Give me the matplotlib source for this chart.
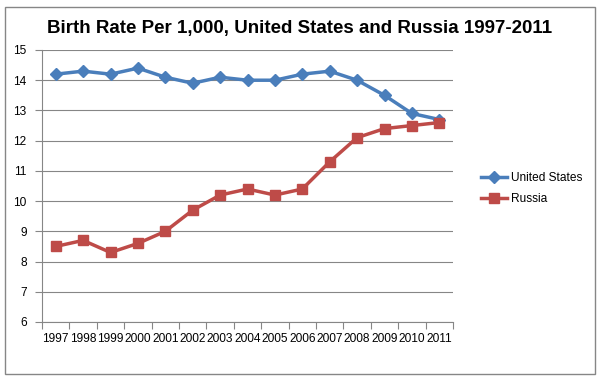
import matplotlib
matplotlib.use("Agg")
import matplotlib.pyplot as plt
from matplotlib.patches import Rectangle

# data
years = ["1997", "1998", "1999", "2000", "2001", "2002", "2003", "2004",
         "2005", "2006", "2007", "2008", "2009", "2010", "2011"]
us_rate = [14.2, 14.3, 14.2, 14.4, 14.1, 13.9, 14.1, 14.0,
           14.0, 14.2, 14.3, 14.0, 13.5, 12.9, 12.7]
russia_rate = [8.5, 8.7, 8.3, 8.6, 9.0, 9.7, 10.2, 10.4,
               10.2, 10.4, 11.3, 12.1, 12.4, 12.5, 12.6]
y_ticks = [6, 7, 8, 9, 10, 11, 12, 13, 14, 15]

plt.rcParams["font.family"] = ["Liberation Sans", "DejaVu Sans"]

fig = plt.figure(figsize=(6, 3.79), dpi=100)
W, H = 600, 379
# plot area in pixels: left 42, right 453, top 50, bottom 322
ax = fig.add_axes([42 / W, 1 - 322 / H, (453 - 42) / W, (322 - 50) / H])

x = list(range(1, len(years) + 1))
ax.plot(x, us_rate, color="#4A7EBB", lw=2.5, marker="D", ms=6,
        label="United States")
ax.plot(x, russia_rate, color="#BE4B48", lw=2.5, marker="s", ms=7,
        label="Russia")

ax.set_xlim(0.5, len(years) + 0.5)
ax.set_ylim(6, 15)
ax.set_yticks(y_ticks)
ax.yaxis.grid(True, color="#868686", lw=0.8)
ax.set_axisbelow(True)

# category axis: ticks between categories, labels centred
ax.set_xticks([i + 0.5 for i in range(0, len(years) + 1)])
ax.set_xticklabels([])
ax.set_xticks(x, minor=True)
ax.set_xticklabels(years, minor=True, fontsize=8.6)
ax.tick_params(axis="x", which="minor", length=0, pad=8)
ax.tick_params(axis="x", which="major", length=5, color="#868686")
ax.tick_params(axis="y", length=5, color="#868686", labelsize=8.6, pad=6)

for side in ["top", "right"]:
    ax.spines[side].set_visible(False)
for side in ["left", "bottom"]:
    ax.spines[side].set_color("#868686")

fig.text(0.5, 1 - 28 / H, "Birth Rate Per 1,000, United States and Russia 1997-2011",
         ha="center", va="center", fontsize=13.5, fontweight="bold")

fig.legend(loc="upper left", bbox_to_anchor=(470 / W, 1 - 161 / H),
           frameon=False, fontsize=8.6, handlelength=2.2, handletextpad=0.3,
           labelspacing=0.8)

fig.patches.append(Rectangle((5 / W, 5 / H), 590 / W, 367 / H, transform=fig.transFigure,
                             fill=False, edgecolor="#868686", lw=1))

fig.savefig("out.png", dpi=100, facecolor="white")
